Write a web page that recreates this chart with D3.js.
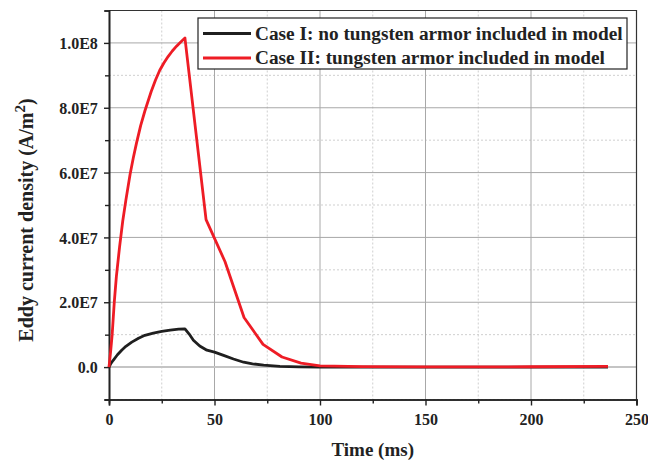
<!DOCTYPE html>
<html lang="en">
<head>
<meta charset="utf-8">
<title>Eddy current density</title>
<script src="https://d3js.org/d3.v7.min.js"></script>
<style>
  body { margin: 0; background: #fff; }
  text { font-family: "Liberation Serif", "Times New Roman", serif; font-weight: bold; fill: #222; }
  .major { stroke: #a8a8a8; stroke-width: 1; }
  .minor { stroke: #cfcfcf; stroke-width: 1; stroke-dasharray: 2,2; }
</style>
</head>
<body>
<script>
// time in ms, current density in units of 1E6 A/m^2
var caseI_t = [0, 1, 2, 4, 6, 8, 10.8, 14, 17, 21, 25, 29, 33, 36, 38, 40, 43, 46.4, 50, 54.3, 59, 63.8, 68, 73.3, 81, 90, 100, 150, 200, 236.5];
var caseI_v = [0, 1.2, 2.1, 3.8, 5.2, 6.4, 7.7, 8.9, 9.8, 10.5, 11.0, 11.4, 11.7, 11.8, 10.2, 8.3, 6.5, 5.2, 4.6, 3.6, 2.5, 1.5, 1.0, 0.6, 0.2, 0.05, 0, 0, 0, 0];

var caseII_t = [0, 0.8, 1.5, 2.5, 3.5, 5, 6.5, 8, 10, 11.5, 13, 15, 17, 20, 22, 24, 26, 28, 30, 32, 34, 36, 46, 55, 64, 73, 82, 91, 100, 120, 150, 200, 236.5];
var caseII_v = [0, 5, 10, 20, 28, 37, 45, 51.5, 59.5, 64.5, 69, 74.5, 79, 85, 88.5, 91.5, 93.8, 95.8, 97.5, 99, 100.3, 101.5, 45.5, 32.5, 15.3, 7.0, 3.1, 1.2, 0.4, 0.15, 0.05, 0.1, 0.2];

var xTicks = [0, 50, 100, 150, 200, 250];
var xMinor = [25, 75, 125, 175, 225];
var yTicks = [0, 20, 40, 60, 80, 100];
var yTickLabels = ["0.0", "2.0E7", "4.0E7", "6.0E7", "8.0E7", "1.0E8"];
var yMinor = [-10, 10, 30, 50, 70, 90];

var seriesNames = ["Case I: no tungsten armor included in model", "Case II: tungsten armor included in model"];
var seriesColors = ["#1f1f1f", "#ee1c25"];

var w = 648, h = 463;
var pLeft = 109, pRight = 636.5, pTop = 10.5, pBottom = 399.5;

var x = d3.scaleLinear().domain([0, 250]).range([pLeft, pRight]);
var y = d3.scaleLinear().domain([-10, 110]).range([pBottom, pTop]);

var svg = d3.select("body").append("svg").attr("width", w).attr("height", h);

// minor grid
svg.append("g").selectAll("line").data(xMinor).enter().append("line")
  .attr("class", "minor")
  .attr("x1", function(d) { return x(d); }).attr("x2", function(d) { return x(d); })
  .attr("y1", pTop).attr("y2", pBottom);
svg.append("g").selectAll("line").data(yMinor).enter().append("line")
  .attr("class", "minor")
  .attr("y1", function(d) { return y(d); }).attr("y2", function(d) { return y(d); })
  .attr("x1", pLeft).attr("x2", pRight);

// major grid
svg.append("g").selectAll("line").data(xTicks.slice(1, -1)).enter().append("line")
  .attr("class", "major")
  .attr("x1", function(d) { return x(d); }).attr("x2", function(d) { return x(d); })
  .attr("y1", pTop).attr("y2", pBottom);
svg.append("g").selectAll("line").data(yTicks).enter().append("line")
  .attr("class", "major")
  .style("stroke", function(d) { return d == 0 ? "#c4c4c4" : null; })
  .style("stroke-width", function(d) { return d == 0 ? 2 : null; })
  .attr("y1", function(d) { return y(d); }).attr("y2", function(d) { return y(d); })
  .attr("x1", pLeft).attr("x2", pRight);

// frame top/right
svg.append("path")
  .attr("d", "M" + pLeft + "," + pTop + "H" + pRight + "V" + pBottom)
  .attr("fill", "none").attr("stroke", "#333").attr("stroke-width", 1.2);

// axes
var xAxis = d3.axisBottom(x).tickValues(xTicks).tickSize(6).tickFormat(d3.format("d"));
var yAxis = d3.axisLeft(y).tickValues(yTicks).tickSize(5)
  .tickFormat(function(d, i) { return yTickLabels[i]; });

var gx = svg.append("g").attr("transform", "translate(0," + pBottom + ")").call(xAxis);
var gy = svg.append("g").attr("transform", "translate(" + pLeft + ",0)").call(yAxis);

// minor ticks
svg.append("g").attr("transform", "translate(0," + pBottom + ")")
  .call(d3.axisBottom(x).tickValues(xMinor).tickSize(4).tickFormat(""));
svg.append("g").attr("transform", "translate(" + pLeft + ",0)")
  .call(d3.axisLeft(y).tickValues(yMinor).tickSize(4).tickFormat(""));

svg.selectAll(".domain").attr("stroke", "#222").attr("stroke-width", 1.6);
svg.selectAll(".tick line").attr("stroke", "#222").attr("stroke-width", 1.4);
gx.selectAll("text").attr("dy", "1.0em");
gy.selectAll("text").attr("dx", "-0.2em").attr("dy", "0.35em");
svg.selectAll(".tick text")
  .style("font-family", "Liberation Serif").style("font-weight", "bold")
  .style("font-size", "16px").style("fill", "#222");

// lines
var line = d3.line()
  .x(function(d) { return x(d[0]); })
  .y(function(d) { return y(d[1]); });

var seriesData = [
  d3.zip(caseI_t, caseI_v),
  d3.zip(caseII_t, caseII_v)
];

svg.append("g").selectAll("path").data(seriesData).enter().append("path")
  .attr("d", line)
  .attr("fill", "none")
  .attr("stroke", function(d, i) { return seriesColors[i]; })
  .attr("stroke-width", 2.8)
  .attr("stroke-linejoin", "round");

// axis titles
svg.append("text")
  .attr("x", (pLeft + pRight) / 2).attr("y", 456)
  .attr("text-anchor", "middle").style("font-size", "19px")
  .text("Time (ms)");

var yt = svg.append("text")
  .attr("transform", "translate(33,220) rotate(-90)")
  .attr("text-anchor", "middle").style("font-size", "20px");
yt.append("tspan").text("Eddy current density (A/m");
yt.append("tspan").style("font-size", "15px").attr("dy", -8).text("2");
yt.append("tspan").attr("dy", 8).text(")");

// legend
var lg = svg.append("g");
lg.append("rect")
  .attr("x", 198).attr("y", 18).attr("width", 429).attr("height", 51)
  .attr("fill", "#fff").attr("stroke", "#222").attr("stroke-width", 1.2);
seriesNames.forEach(function(name, i) {
  var yy = 33.5 + i * 24.5;
  lg.append("line").attr("x1", 203).attr("x2", 251).attr("y1", yy).attr("y2", yy)
    .attr("stroke", seriesColors[i]).attr("stroke-width", 2.8);
  lg.append("text").attr("x", 255).attr("y", yy + 6)
    .style("font-size", "19.3px").text(name);
});
</script>
</body>
</html>
